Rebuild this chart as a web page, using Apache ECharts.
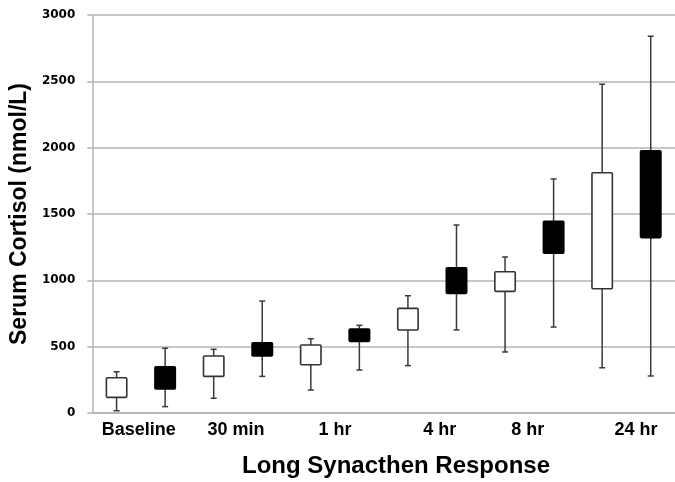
<!DOCTYPE html>
<html>
<head>
<meta charset="utf-8">
<script src="https://cdn.jsdelivr.net/npm/echarts@6/dist/echarts.min.js"></script>
<style>html,body{margin:0;padding:0;background:#fff}#c{width:675px;height:482px}</style>
</head>
<body>
<div id="c"></div>
<script>
const groups = ['Baseline', '30 min', '1 hr', '4 hr', '8 hr', '24 hr'];
const yTicks = [0, 500, 1000, 1500, 2000, 2500, 3000];
// white (open) boxes
const whiteMin = [17, 111, 173, 357, 460, 341];
const whiteQ1  = [118, 276, 364, 626, 917, 937];
const whiteQ3  = [266, 430, 513, 789, 1065, 1811];
const whiteMax = [311, 480, 560, 884, 1176, 2478];
// black (filled) boxes
const blackMin = [48, 276, 324, 626, 648, 279];
const blackQ1  = [181, 430, 540, 902, 1204, 1322];
const blackQ3  = [349, 530, 633, 1095, 1445, 1977];
const blackMax = [488, 844, 661, 1417, 1764, 2840];

const slots = [];
groups.forEach(g => { slots.push(g + ' (open)'); slots.push(g + ' (filled)'); });

function build(mins, q1s, q3s, maxs, offset) {
  return groups.map((g, i) => [2 * i + offset, mins[i], q1s[i], q3s[i], maxs[i]]);
}

function makeRender(fill) {
  return function (params, api) {
    const x = api.value(0);
    const pMin = api.coord([x, api.value(1)]);
    const pQ1 = api.coord([x, api.value(2)]);
    const pQ3 = api.coord([x, api.value(3)]);
    const pMax = api.coord([x, api.value(4)]);
    const band = api.size([1, 0])[0];
    const bw = band * 0.42;
    const cap = 3;
    const cx = pMin[0];
    const lineStyle = { stroke: '#3a3a3a', lineWidth: 1.5 };
    return {
      type: 'group',
      children: [
        { type: 'line', shape: { x1: cx, y1: pMin[1], x2: cx, y2: pMax[1] }, style: lineStyle },
        { type: 'line', shape: { x1: cx - cap, y1: pMax[1], x2: cx + cap, y2: pMax[1] }, style: lineStyle },
        { type: 'line', shape: { x1: cx - cap, y1: pMin[1], x2: cx + cap, y2: pMin[1] }, style: lineStyle },
        { type: 'rect', shape: { x: cx - bw / 2, y: pQ3[1], width: bw, height: pQ1[1] - pQ3[1], r: 1 },
          style: { fill: fill, stroke: fill === '#000' ? '#000' : '#333', lineWidth: 1.6 } }
      ]
    };
  };
}

// small per-label padding to mimic the original label placement
const labelPad = { 'Baseline': [0, 4, 0, 0], '30 min': [0, 4, 0, 0], '1 hr': [0, 0, 0, 0],
  '4 hr': [0, 0, 0, 15], '8 hr': [0, 3, 0, 0], '24 hr': [0, 0, 0, 19] };

const chart = echarts.init(document.getElementById('c'), null, { renderer: 'canvas' });
chart.setOption({
  animation: false,
  backgroundColor: '#fff',
  grid: { left: 92, right: -4, top: 15, bottom: 69 },
  xAxis: [
    {
      type: 'category', data: slots, gridIndex: 0, position: 'bottom',
      axisLine: { show: true, lineStyle: { color: '#b4b4b4', width: 1.5 } },
      axisTick: { show: false }, axisLabel: { show: false }, splitLine: { show: false }
    },
    {
      type: 'category', gridIndex: 0, position: 'bottom',
      data: groups.map(g => ({ value: g, textStyle: { padding: labelPad[g] } })),
      axisLine: { show: false }, axisTick: { show: false }, splitLine: { show: false },
      axisLabel: { margin: 8, color: '#000', fontFamily: 'Liberation Sans, Arial', fontWeight: 'bold', fontSize: 18 }
    }
  ],
  yAxis: {
    type: 'value', min: 0, max: 3000, interval: 500,
    name: 'Serum Cortisol (nmol/L)', nameLocation: 'middle', nameGap: 55,
    nameTextStyle: { color: '#000', fontFamily: 'Liberation Sans, Arial', fontWeight: 'bold', fontSize: 23 },
    axisLine: { show: true, lineStyle: { color: '#b4b4b4', width: 1.5 } },
    axisTick: { show: true, length: 5, lineStyle: { color: '#b4b4b4', width: 1.5 } },
    axisLabel: { margin: 17, color: '#000', fontFamily: 'DejaVu Sans', fontWeight: 'bold', fontSize: 12,
      formatter: v => yTicks.indexOf(v) >= 0 ? String(v) : '' },
    splitLine: { show: true, lineStyle: { color: '#b4b4b4', width: 1.5 } }
  },
  graphic: [{
    type: 'text', x: 396, y: 466,
    style: { text: 'Long Synacthen Response', textAlign: 'center', textVerticalAlign: 'middle',
      fill: '#000', font: 'bold 24px "Liberation Sans", Arial' }
  }],
  series: [
    { type: 'custom', name: 'open', xAxisIndex: 0, renderItem: makeRender('#fff'),
      encode: { x: 0, y: [1, 2, 3, 4] }, data: build(whiteMin, whiteQ1, whiteQ3, whiteMax, 0), z: 3 },
    { type: 'custom', name: 'filled', xAxisIndex: 0, renderItem: makeRender('#000'),
      encode: { x: 0, y: [1, 2, 3, 4] }, data: build(blackMin, blackQ1, blackQ3, blackMax, 1), z: 3 }
  ]
});
</script>
</body>
</html>
